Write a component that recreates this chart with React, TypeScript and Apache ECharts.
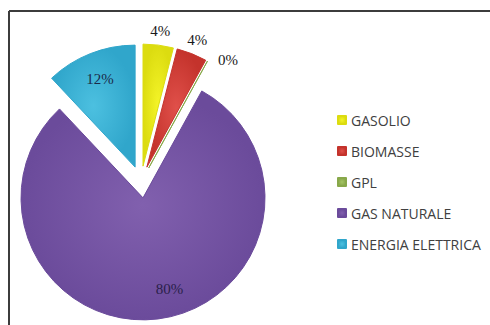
import React, { useEffect, useRef } from "react";
import * as echarts from "echarts";

const categories = ["GASOLIO", "BIOMASSE", "GPL", "GAS NATURALE", "ENERGIA ELETTRICA"];
const percentages = [4, 4, 0, 80, 12];

// styles (not data)
const sliceColors = [
  ["#f4f428", "#dcdc10"],
  ["#e0504a", "#c4332c"],
  ["#a4c464", "#88a84a"],
  ["#8160ae", "#6b4b9b"],
  ["#4cc0e0", "#30a6cb"],
];
const labelRadiusFactor = [1.12, 1.12, 1.05, 0.78, 0.78];
const labelAngleNudge = [0, 0, 4, -9, 0];
const labelAlign = ["center", "center", "left", "center", "center"];
const labelColors = ["#1a1a1a", "#1a1a1a", "#1a1a1a", "#2a1f4a", "#1b2b4a"];

const CX = 141;
const CY = 182;
const R = 122;
const EXPLODE = 16;

export default function App() {
  const ref = useRef<HTMLDivElement>(null);
  useEffect(() => {
    if (!ref.current) return;
    const chart = echarts.init(ref.current, null, { renderer: "svg" });
    const total = percentages.reduce((a, b) => a + b, 0);
    const starts: number[] = [];
    const mids: number[] = [];
    let cum = 0;
    percentages.forEach((v) => {
      starts.push((cum / total) * 360);
      mids.push(((cum + v / 2) / total) * 360);
      cum += v;
    });

    const series = categories.map((name, i) => {
      const m0 = (mids[i] * Math.PI) / 180;
      const sx = CX + EXPLODE * Math.sin(m0);
      const sy = CY - EXPLODE * Math.cos(m0);
      return {
        type: "pie",
        id: "slice" + i,
        center: [sx, sy],
        radius: R,
        startAngle: 90 - starts[i],
        clockwise: true,
        silent: true,
        avoidLabelOverlap: false,
        stillShowZeroSum: true,
        emphasis: { disabled: true },
        labelLine: { show: false },
        labelLayout: (params: any) => {
          if (params.dataIndex !== 0) return {};
          const m = ((mids[i] + labelAngleNudge[i]) * Math.PI) / 180;
          const k = labelRadiusFactor[i] * R;
          return {
            x: sx + k * Math.sin(m),
            y: sy - k * Math.cos(m),
            align: labelAlign[i],
            verticalAlign: "middle",
          };
        },
        data: [
          {
            name,
            value: percentages[i],
            itemStyle: {
              color: new echarts.graphic.RadialGradient(0.5, 0.5, 0.5, [
                { offset: 0, color: sliceColors[i][0] },
                { offset: 1, color: sliceColors[i][1] },
              ]),
              borderColor: sliceColors[i][1],
              borderWidth: 1,
            },
            label: {
              show: true,
              position: "inside",
              formatter: "{c}%",
              fontFamily: "Liberation Serif",
              fontSize: 15,
              color: labelColors[i],
            },
          },
          {
            name: "_rest" + i,
            value: total - percentages[i],
            itemStyle: { color: "rgba(0,0,0,0)", borderWidth: 0 },
            label: { show: false },
          },
        ],
      };
    });

    chart.setOption({
      animation: false,
      backgroundColor: "#ffffff",
      legend: {
        orient: "vertical",
        left: 332,
        top: 108,
        itemWidth: 8,
        itemHeight: 8,
        itemGap: 17,
        icon: "rect",
        selectedMode: false,
        data: categories,
        textStyle: {
          fontFamily: "Open Sans",
          fontSize: 14,
          color: "#404040",
        },
      },
      graphic: [
        {
          type: "line",
          shape: { x1: 9, y1: 11, x2: 490, y2: 11 },
          style: { stroke: "#3c3c3c", lineWidth: 2 },
        },
        {
          type: "line",
          shape: { x1: 9, y1: 11, x2: 9, y2: 325 },
          style: { stroke: "#3c3c3c", lineWidth: 2 },
        },
      ],
      series,
    });
    return () => chart.dispose();
  }, []);
  return (
    <div
      ref={ref}
      style={{ position: "fixed", left: 0, top: 0, width: 490, height: 325 }}
    />
  );
}
